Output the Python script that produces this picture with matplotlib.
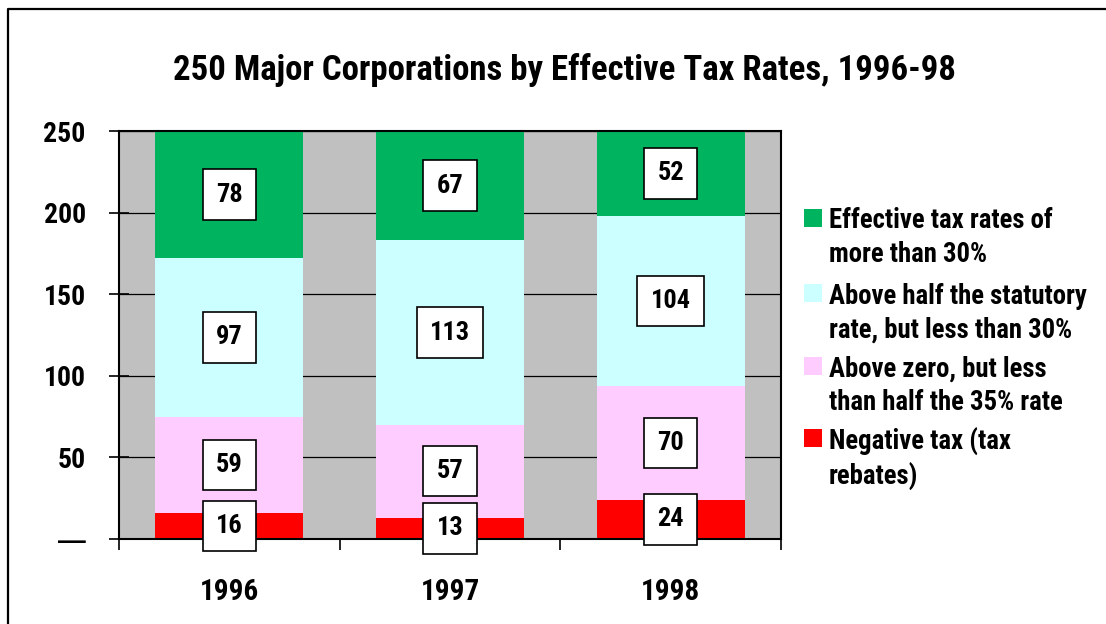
import matplotlib
matplotlib.use("Agg")
import matplotlib.pyplot as plt
from matplotlib.patches import Rectangle
from matplotlib.lines import Line2D
import numpy as np

plt.rcParams['font.family'] = ['Roboto Condensed', 'Liberation Sans', 'DejaVu Sans']
plt.rcParams['font.weight'] = 'bold'

years = ['1996', '1997', '1998']
negative = [16, 13, 24]
low = [59, 57, 70]
mid = [97, 113, 104]
high = [78, 67, 52]
series = [negative, low, mid, high]
series_labels = ['Negative tax (tax\nrebates)',
                 'Above zero, but less\nthan half the 35% rate',
                 'Above half the statutory\nrate, but less than 30%',
                 'Effective tax rates of\nmore than 30%']
colors = ['#FF0000', '#FFCCFF', '#CCFFFF', '#00B45F']
ytick_vals = [0, 50, 100, 150, 200, 250]
ytick_labels = ['\u2014', '50', '100', '150', '200', '250']
title = '250 Major Corporations by Effective Tax Rates, 1996-98'

W, H = 1106, 624
fig = plt.figure(figsize=(W / 100, H / 100), dpi=100)
ax = fig.add_axes([119 / W, 1 - 539 / H, (781 - 119) / W, (539 - 131) / H])
ax.set_facecolor('#C0C0C0')

x = np.arange(len(years))
bottom = np.zeros(len(years))
for vals, col in zip(series, colors):
    vals = np.array(vals, dtype=float)
    ax.bar(x, vals, bottom=bottom, width=0.67, color=col, edgecolor='none', zorder=2)
    for xi, b, v in zip(x, bottom, vals):
        ax.text(xi, b + v / 2, f'{int(v)}', ha='center', va='center', fontsize=19,
                fontweight='bold', zorder=4,
                bbox=dict(boxstyle='square,pad=0.5', facecolor='white',
                          edgecolor='black', linewidth=1.2))
    bottom += vals

ax.set_xlim(-0.5, len(years) - 0.5)
ax.set_ylim(0, 250)
ax.set_yticks(ytick_vals)
ax.set_yticklabels(ytick_labels)
ax.yaxis.grid(True, color='black', linewidth=0.9, zorder=1)
ax.set_axisbelow(True)
ax.tick_params(axis='y', direction='inout', length=14, width=1.2, pad=17, labelsize=20)
ax.set_xticks(x)
ax.set_xticklabels(years)
ax.tick_params(axis='x', which='major', length=0, pad=28, labelsize=21)
ax.set_xticks(np.arange(len(years) + 1) - 0.5, minor=True)
ax.tick_params(axis='x', which='minor', direction='out', length=8, width=1.2)
for s in ax.spines.values():
    s.set_linewidth(1.5)
    s.set_color('black')
for lab in ax.get_xticklabels() + ax.get_yticklabels():
    lab.set_fontweight('bold')
ax.get_yticklabels()[0].set_fontfamily(['Liberation Sans', 'DejaVu Sans'])

fig.text(564 / W, 1 - 70 / H, title, ha='center', va='center', fontsize=25, fontweight='bold')

# legend (drawn manually so the swatch aligns with the first text line)
leg_y = [218, 293, 366, 438]
for yc, lab, col in zip(leg_y, series_labels[::-1], colors[::-1]):
    fig.patches.append(Rectangle((804 / W, 1 - (yc + 9) / H), 18 / W, 18 / H,
                                 transform=fig.transFigure, facecolor=col,
                                 edgecolor='none'))
    fig.text(829 / W, 1 - (yc - 10.5) / H, lab, ha='left', va='top', fontsize=19.3,
             fontweight='bold', linespacing=1.33)

# figure border (left and top)
fig.add_artist(Line2D([8 / W, 8 / W, 1.0], [0.0, 1 - 9 / H, 1 - 9 / H],
                      transform=fig.transFigure, color='black', linewidth=1.6))

fig.savefig('out.png', dpi=100)
